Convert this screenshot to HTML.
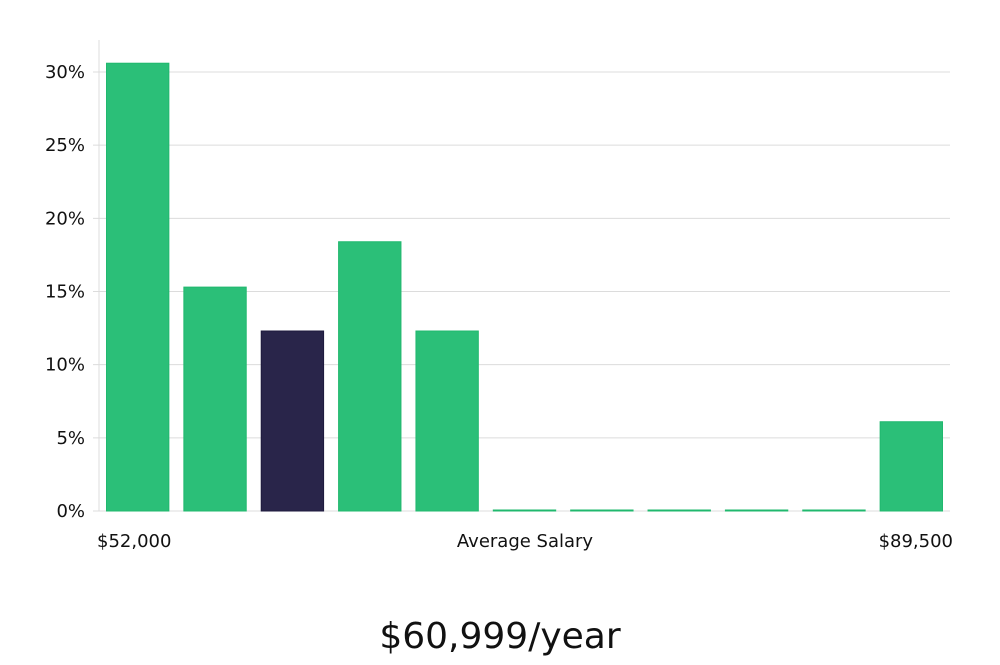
<!DOCTYPE html>
<html><head><meta charset="utf-8"><style>
body{margin:0;background:#fff;width:1000px;height:660px;overflow:hidden}
svg text{font-family:"DejaVu Sans",sans-serif;fill:#111}
</style></head><body>
<svg id="chart" width="1000" height="660" xmlns="http://www.w3.org/2000/svg"></svg>
<script>
const categories=["b1","b2","b3","b4","b5","b6","b7","b8","b9","b10","b11"];
const values=[30.6,15.3,12.3,18.4,12.3,0,0,0,0,0,6.1];
const highlight=[false,false,true,false,false,false,false,false,false,false,false];
const yTicks=[0,5,10,15,20,25,30];
const NS="http://www.w3.org/2000/svg";
const svg=document.getElementById('chart');
const x0=99,x1=950,y0=511,yTop=40;
const yScale=v=>y0-v*(511-72)/30;
const band=(x1-x0)/categories.length;
function mk(t,a,p){const e=document.createElementNS(NS,t);for(const k in a)e.setAttribute(k,a[k]);(p||svg).appendChild(e);return e;}
yTicks.forEach(t=>{
  const y=yScale(t);
  const g=mk('line',{x1:x0-6,x2:x1,y1:y,y2:y,stroke:'#dcdcdc','stroke-width':1});
  
  
  const tx=mk('text',{x:x0-14,y:y+6,'text-anchor':'end','font-size':18});
  tx.textContent=t+'%';
  
  
});
const ax=mk('line',{x1:x0,x2:x0,y1:yTop,y2:y0,stroke:'#dcdcdc','stroke-width':1});


values.forEach((v,i)=>{
  const bx=x0+i*band+7.5,bw=band-15;
  const y=yScale(v);
  const h=Math.max(y0-y,1);
  const r=mk('rect',{x:bx,y:y0-h,width:bw,height:h,fill:highlight[i]?'#29254a':'#2bbf78',stroke:highlight[i]?'#1e1a3d':'#20b86e','stroke-width':1});
  
  
});
function lab(x,y,s,anchor,size,name){const t=mk('text',{x:x,y:y,'text-anchor':anchor,'font-size':size});t.textContent=s;
  
  return t;}
lab(97,547,'$52,000','start',18,'x-min-label');
lab(525,547,'Average Salary','middle',18,'x-axis-title');
lab(953,547,'$89,500','end',18,'x-max-label');
const s=lab(500,648,'$60,999/year','middle',36,'average-salary-value');
s.setAttribute('font-family','"Liberation Sans",sans-serif');
</script>
</body></html>
